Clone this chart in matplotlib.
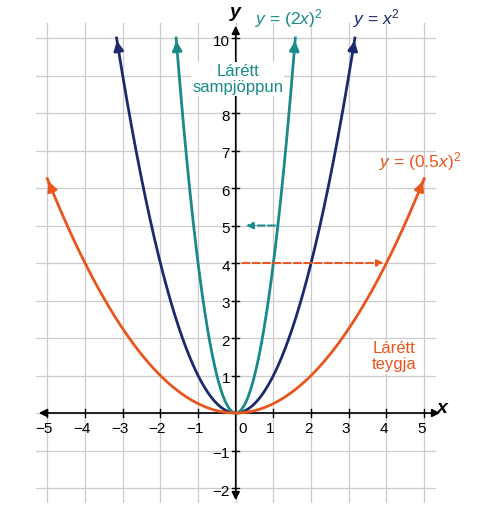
import numpy as np
import matplotlib.pyplot as plt
from matplotlib.patches import FancyArrowPatch
plt.rcParams['font.family'] = ['Liberation Sans', 'DejaVu Sans']
plt.rcParams['mathtext.fontset'] = 'custom'
plt.rcParams['mathtext.it'] = 'Liberation Sans:italic'
plt.rcParams['mathtext.rm'] = 'Liberation Sans'

navy, teal, orange = '#1b2a6b', '#188a8a', '#e8561e'
x_ticks = [-5,-4,-3,-2,-1,1,2,3,4,5]
y_ticks = [-2,-1,1,2,3,4,5,6,7,8,9,10]
factors = [1.0, 2.0, 0.5]
colors = [navy, teal, orange]

fig = plt.figure(figsize=(4.87,5.14), dpi=100)
W,H = 487,514
ax = fig.add_axes([36/W, 1-503/H, 407/W, 480/H])
ax.set_xlim(-5.3, 5.5); ax.set_ylim(-2.4, 10.4)
ax.set_axis_off()
for v in range(-5,6):
    ax.plot([v,v],[-2.4,10.4],color='#cccccc',lw=0.9,zorder=0)
for v in range(-2,11):
    ax.plot([-5.3,5.3],[v,v],color='#cccccc',lw=0.9,zorder=0)
ax.add_patch(FancyArrowPatch((-5.3,0),(5.5,0),arrowstyle='<|-|>',mutation_scale=12,color='black',lw=1.2))
ax.add_patch(FancyArrowPatch((0,-2.4),(0,10.4),arrowstyle='<|-|>',mutation_scale=12,color='black',lw=1.2))
for t in x_ticks:
    ax.plot([t,t],[-0.1,0.1],color='black',lw=1)
    ax.text(t-0.08, -0.25, str(t).replace('-','−'), ha='center', va='top', fontsize=11)
for t in y_ticks:
    ax.plot([-0.1,0.1],[t,t],color='black',lw=1)
    ax.text(-0.15, t-0.1, str(t).replace('-','−'), ha='right', va='center', fontsize=11)
ax.text(0.18,-0.25,'0',ha='center',va='top',fontsize=11)
ax.text(5.35,0.12,'x',fontsize=14,style='italic',fontweight='bold',va='center')
ax.text(0,10.55,'y',fontsize=14,style='italic',fontweight='bold',ha='center',clip_on=False)

for k,c in zip(factors,colors):
    xm = min(np.sqrt(10)/k, 5.0)
    xs = np.linspace(-xm, xm, 400)
    ax.plot(xs,(k*xs)**2,color=c,lw=2)
    for s in (-1,1):
        p0 = s*xm*0.985; ax.annotate('',xy=(s*xm,(k*xm)**2),xytext=(p0,(k*p0)**2),
            arrowprops=dict(arrowstyle='-|>',color=c,lw=2,mutation_scale=14))

ax.annotate('',xy=(0.2,5),xytext=(1.12,5),arrowprops=dict(arrowstyle='-|>',color=teal,lw=1.4,ls='--',mutation_scale=10))
ax.annotate('',xy=(4.0,4),xytext=(0.1,4),arrowprops=dict(arrowstyle='-|>',color=orange,lw=1.4,ls='--',mutation_scale=10))

ax.text(0.5,10.2,'$y$ = (2$x$)$^2$',color=teal,fontsize=12.5,va='bottom',clip_on=False)
ax.text(3.1,10.2,'$y$ = $x^2$',color=navy,fontsize=12.5,va='bottom',clip_on=False)
ax.text(0.05,8.9,'Lárétt\nsampjöppun',color=teal,fontsize=12,ha='center',va='center',linespacing=1.1,
        bbox=dict(facecolor='white',edgecolor='none',pad=1))
ax.text(3.8,6.7,'$y$ = (0.5$x$)$^2$',color=orange,fontsize=12.5,va='center',clip_on=False)
ax.text(4.2,1.5,'Lárétt\nteygja',color=orange,fontsize=12,ha='center',va='center',linespacing=1.1,
        bbox=dict(facecolor='white',edgecolor='none',pad=1))
fig.savefig('out.png',dpi=100)
